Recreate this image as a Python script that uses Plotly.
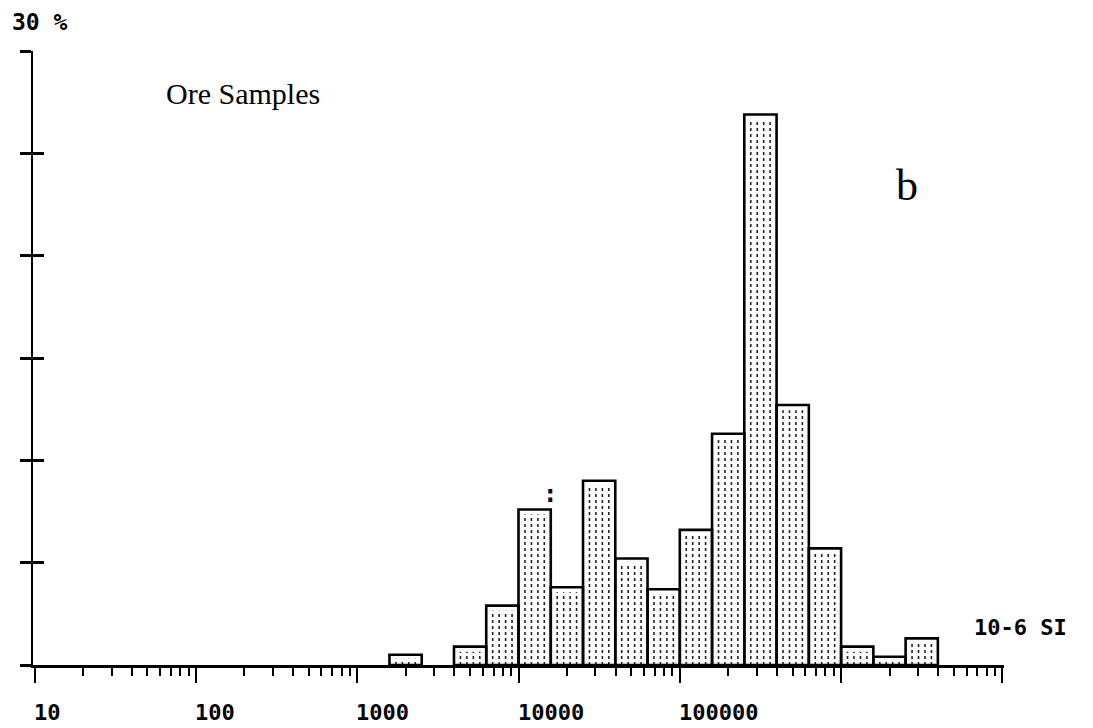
import numpy as np
import plotly.graph_objects as go

# Magnetic susceptibility histogram of ore samples (units 10^-6 SI).
# Bins are 0.2 decade wide; bin_start holds log10 of each bin's lower edge.
bin_start = [3.2, 3.4, 3.6, 3.8, 4.0, 4.2, 4.4, 4.6, 4.8, 5.0,
             5.2, 5.4, 5.6, 5.8, 6.0, 6.2, 6.4]
share_pct = [0.5, 0.0, 0.9, 2.9, 7.6, 3.8, 9.0, 5.2, 3.7, 6.6,
             11.3, 26.9, 12.7, 5.7, 0.9, 0.4, 1.3]
bin_width = 0.2

tick_values = [10, 100, 1000, 10000, 100000]
tick_labels = ["10", "100", "1000", "10000", "100000"]

W, H = 1093, 728
ML, MR, MT, MB = 33, 89, 51, 63
PW, PH = W - ML - MR, H - MT - MB


def px(x):
    return (x - ML) / PW


def py(y):
    return (H - MB - y) / PH


MONO = "DejaVu Sans Mono"
SERIF = "Liberation Serif"

fill_x, fill_y = [], []
hatch_x, hatch_y = [], []
for s, v in zip(bin_start, share_pct):
    if v <= 0:
        continue
    lo, hi = 10 ** s, 10 ** (s + bin_width)
    fill_x += [lo, hi, hi, lo, lo, None]
    fill_y += [0, 0, v, v, 0, None]
    top = v - min(0.25, 0.4 * v)
    for f in (0.2, 0.4, 0.6, 0.8):
        xx = 10 ** (s + f * bin_width)
        hatch_x += [xx, xx, None]
        hatch_y += [0, top, None]

fig = go.Figure()
fig.add_trace(go.Scatter(x=fill_x, y=fill_y, mode="lines", fill="toself",
                         fillcolor="white", line=dict(width=0),
                         hoverinfo="skip", showlegend=False))
fig.add_trace(go.Scatter(x=hatch_x, y=hatch_y, mode="lines",
                         line=dict(color="#222222", width=1.6, dash="dot"),
                         hoverinfo="skip", showlegend=False))
fig.add_trace(go.Scatter(x=fill_x, y=fill_y, mode="lines",
                         line=dict(color="black", width=2.6),
                         hoverinfo="skip", showlegend=False))
# invisible trace so the inner-tick axis is rendered
fig.add_trace(go.Scatter(x=[10], y=[0], yaxis="y2", mode="markers",
                         marker=dict(opacity=0), hoverinfo="skip",
                         showlegend=False))

annotations = []
for v, t in zip(tick_values, tick_labels):
    annotations.append(dict(x=np.log10(v), xref="x", y=0, yref="paper",
                            text=t, showarrow=False, xanchor="left",
                            yanchor="middle", xshift=-3, yshift=-47,
                            font=dict(family=MONO, size=22, color="black",
                                      weight="bold")))
annotations += [
    dict(x=px(10), y=py(22), xref="paper", yref="paper", text="30 %",
         showarrow=False, xanchor="left", yanchor="middle",
         font=dict(family=MONO, size=23, color="black", weight="bold")),
    dict(x=px(164), y=py(93), xref="paper", yref="paper", text="Ore Samples",
         showarrow=False, xanchor="left", yanchor="middle",
         font=dict(family=SERIF, size=30, color="black")),
    dict(x=px(907), y=py(185), xref="paper", yref="paper", text="b",
         showarrow=False, xanchor="center", yanchor="middle",
         font=dict(family=SERIF, size=44, color="black")),
    dict(x=px(972), y=py(627), xref="paper", yref="paper", text="10-6 SI",
         showarrow=False, xanchor="left", yanchor="middle",
         font=dict(family=MONO, size=22, color="black", weight="bold")),
    dict(x=px(550), y=py(494), xref="paper", yref="paper", text=":",
         showarrow=False, xanchor="center", yanchor="middle",
         font=dict(family=MONO, size=24, color="black", weight="bold")),
]

fig.update_layout(
    width=W, height=H,
    margin=dict(l=ML, r=MR, t=MT, b=MB),
    paper_bgcolor="white", plot_bgcolor="white",
    showlegend=False,
    xaxis=dict(type="log", range=[0.99, 7.01], showgrid=False,
               zeroline=False, showline=True, linecolor="black",
               linewidth=3, ticks="outside", ticklen=15, tickwidth=2,
               tickcolor="black", dtick=1, showticklabels=False,
               minor=dict(ticks="outside", ticklen=8, tickwidth=1.5,
                          tickcolor="black", dtick="D1", showgrid=False)),
    yaxis=dict(range=[0, 30], showgrid=False, zeroline=False,
               showline=True, linecolor="black", linewidth=2,
               ticks="outside", ticklen=11, tickwidth=3, tickcolor="black",
               tick0=0, dtick=5, showticklabels=False),
    yaxis2=dict(range=[0, 30], overlaying="y", side="left", showgrid=False,
                zeroline=False, showline=False, ticks="inside", ticklen=11,
                tickwidth=3, tickcolor="black", tick0=0, dtick=5,
                showticklabels=False),
    annotations=annotations,
)

fig.write_html("out.html")
